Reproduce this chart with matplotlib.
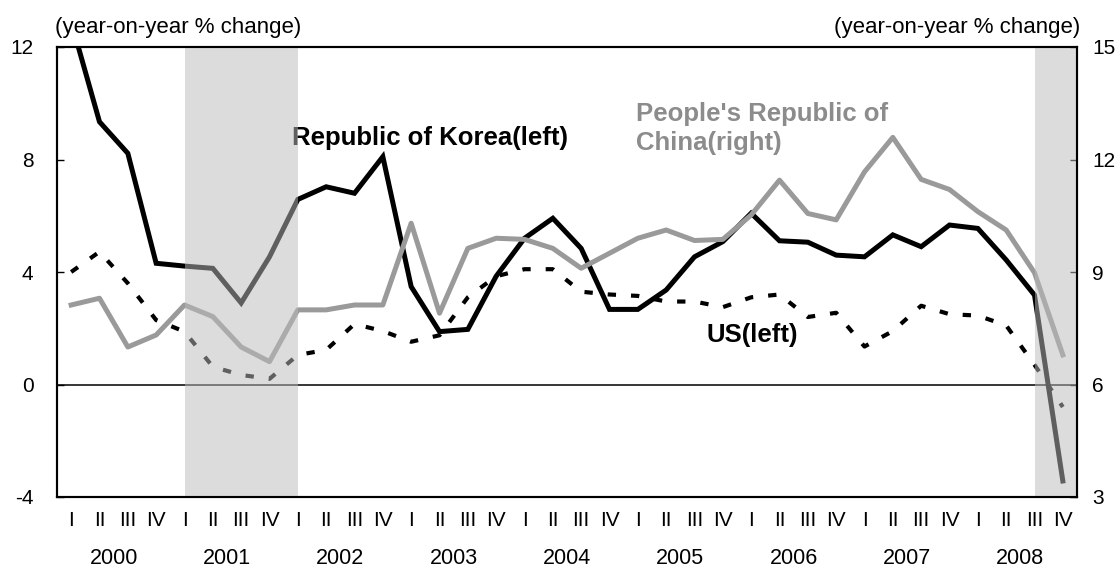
import matplotlib
matplotlib.use('Agg')
import matplotlib.pyplot as plt
import matplotlib.transforms as mtransforms

plt.rcParams['font.family'] = ['Liberation Sans', 'DejaVu Sans']
plt.rcParams['axes.unicode_minus'] = False

# quarterly data, 2000 Q1 - 2008 Q4
years = ['2000', '2001', '2002', '2003', '2004', '2005', '2006', '2007', '2008']
quarters = ['I', 'II', 'III', 'IV']
korea = [12.9, 9.34, 8.22, 4.31, 4.21, 4.13, 2.9, 4.54,
         6.58, 7.03, 6.8, 8.1, 3.48, 1.88, 1.96, 3.85,
         5.2, 5.91, 4.84, 2.67, 2.67, 3.36, 4.54, 5.08,
         6.09, 5.11, 5.06, 4.6, 4.54, 5.32, 4.9, 5.67,
         5.55, 4.43, 3.18, -3.43]
us = [4.0, 4.72, 3.6, 2.29, 1.88, 0.63, 0.34, 0.2,
      1.05, 1.23, 2.15, 1.9, 1.52, 1.75, 3.1, 3.85,
      4.1, 4.1, 3.3, 3.2, 3.15, 2.95, 2.95, 2.75,
      3.1, 3.2, 2.4, 2.55, 1.35, 1.9, 2.8, 2.5,
      2.45, 2.1, 0.7, -0.8]
china = [8.12, 8.3, 7.0, 7.32, 8.12, 7.81, 7.0, 6.61,
         7.99, 7.99, 8.12, 8.12, 10.3, 7.9, 9.63, 9.9,
         9.87, 9.63, 9.1, 9.5, 9.9, 10.12, 9.84, 9.87,
         10.52, 11.45, 10.56, 10.39, 11.67, 12.59, 11.47, 11.2,
         10.61, 10.12, 8.98, 6.79]
# shaded periods (quarter index start, end)
shades = [(4, 8), (34, 35.5)]

n = len(korea)
x = [i + 0.5 for i in range(n)]

fig = plt.figure(figsize=(11.2, 5.72), dpi=100)
ax = fig.add_axes([57/1120, 1 - 497/572, 1020/1120, 450/572])
ax2 = ax.twinx()

ax.plot(x, korea, color='black', lw=3.6, solid_joinstyle='miter', zorder=3)
ax.plot(x, us, color='black', lw=3.0, dashes=(2.0, 3.6), zorder=3)
ax.axhline(0, color='black', lw=1.1, zorder=2)
ax2.plot(x, china, color='#9a9a9a', lw=3.6, zorder=3)

for s, e in shades:
    ax2.axvspan(s + 0.5, e + 0.5, color='#bcbcbc', alpha=0.51, lw=0, zorder=5)

ax.set_xlim(0, n)
ax.set_ylim(-4, 12)
ax2.set_ylim(3, 15)
ax.set_yticks([-4, 0, 4, 8, 12])
ax2.set_yticks([3, 6, 9, 12, 15])

ax.set_xticks(x)
ax.set_xticklabels(quarters * len(years))
ax.tick_params(axis='x', length=0, pad=10, labelsize=15)
ax.tick_params(axis='y', direction='in', length=5, width=1, pad=17, labelsize=15)
ax2.tick_params(axis='y', direction='in', length=5, width=1, pad=11, labelsize=15)

for a in (ax, ax2):
    for sp in a.spines.values():
        sp.set_linewidth(1.5)
        sp.set_zorder(10)

trans = mtransforms.blended_transform_factory(ax.transData, ax.transAxes)
for k, yr in enumerate(years):
    ax.text(4 * k + 2, -0.136, yr, transform=trans, ha='center', va='center', fontsize=15.5)

ax.text(8.3, 8.77, 'Republic of Korea(left)', fontsize=18.5, fontweight='bold',
        color='black', ha='left', va='center', zorder=6)
ax.text(20.44, 9.1, "People's Republic of\nChina(right)", fontsize=18.5, fontweight='bold',
        color='#8c8c8c', ha='left', va='center', linespacing=1.25, zorder=6)
ax.text(22.94, 1.76, 'US(left)', fontsize=18.5, fontweight='bold',
        color='black', ha='left', va='center', zorder=6)

fig.text(55/1120, 1 - 27/572, '(year-on-year % change)', fontsize=16, ha='left', va='center')
fig.text(1080/1120, 1 - 27/572, '(year-on-year % change)', fontsize=16, ha='right', va='center')

fig.savefig('out.png', dpi=100)
